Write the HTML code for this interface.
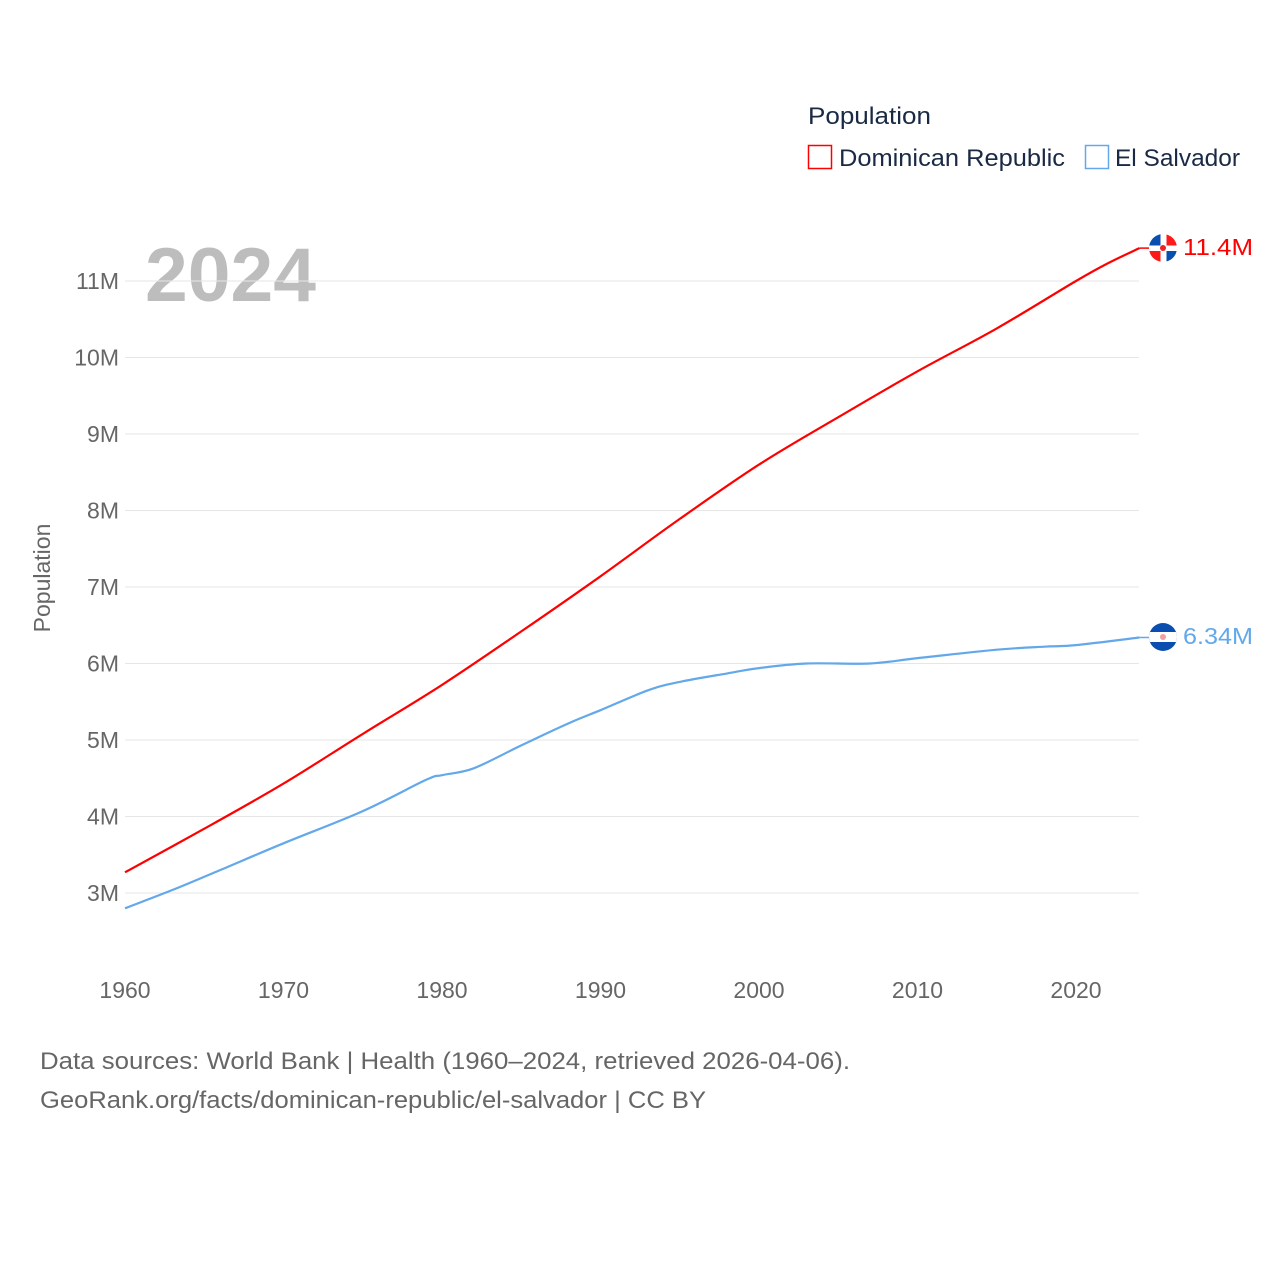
<!DOCTYPE html>
<html><head><meta charset="utf-8"><style>
html,body{margin:0;padding:0;background:#fff;}
svg{display:block;font-family:"Liberation Sans",sans-serif;}
</style></head><body>
<svg id="chart" width="1280" height="1280" viewBox="0 0 1280 1280" xmlns="http://www.w3.org/2000/svg">
<text x="808" y="124" font-size="24" fill="#1a2a44" textLength="123" lengthAdjust="spacingAndGlyphs">Population</text>
<rect x="808.5" y="145.5" width="23" height="23" fill="#fff" stroke="#ff0000" stroke-width="1.5"/>
<text x="839" y="166" font-size="24" fill="#1a2a44" textLength="226" lengthAdjust="spacingAndGlyphs">Dominican Republic</text>
<rect x="1085.5" y="145.5" width="23" height="23" fill="#fff" stroke="#63a8ea" stroke-width="1.5"/>
<text x="1115" y="166" font-size="24" fill="#1a2a44" textLength="125" lengthAdjust="spacingAndGlyphs">El Salvador</text>
<text x="145" y="301" font-size="76" font-weight="bold" fill="#bdbdbd" textLength="171" lengthAdjust="spacingAndGlyphs">2024</text>
<text transform="translate(50,578) rotate(-90)" text-anchor="middle" font-size="23" fill="#666">Population</text>
<g id="grid"></g><g id="yticks"></g><g id="xticks"></g><g id="lines"></g>
<g>
<clipPath id="c1"><circle cx="1163" cy="248" r="14"/></clipPath>
<g clip-path="url(#c1)"><rect x="1149" y="234" width="28" height="28" fill="#fff"/>
<rect x="1149" y="234" width="11.5" height="11.5" fill="#0a4fb0"/><rect x="1166.5" y="234" width="11.5" height="11.5" fill="#ff1a1a"/>
<rect x="1149" y="251" width="11.5" height="11.5" fill="#ff1a1a"/><rect x="1166.5" y="251" width="11.5" height="11.5" fill="#0a4fb0"/>
<circle cx="1163" cy="248" r="3" fill="#e22"/></g></g>
<text x="1183" y="255" font-size="23" fill="#ff0000" textLength="70" lengthAdjust="spacingAndGlyphs">11.4M</text>
<g>
<clipPath id="c2"><circle cx="1163" cy="637" r="14"/></clipPath>
<g clip-path="url(#c2)"><rect x="1149" y="623" width="28" height="28" fill="#0a4fb0"/><rect x="1149" y="632" width="28" height="10" fill="#fff"/>
<circle cx="1163" cy="637" r="3" fill="#f0a0a0"/></g></g>
<text x="1183" y="644" font-size="23" fill="#63a8ea" textLength="70" lengthAdjust="spacingAndGlyphs">6.34M</text>
<text x="40" y="1069" font-size="24" fill="#666" textLength="810" lengthAdjust="spacingAndGlyphs">Data sources: World Bank | Health (1960–2024, retrieved 2026-04-06).</text>
<text x="40" y="1108" font-size="24" fill="#666" textLength="666" lengthAdjust="spacingAndGlyphs">GeoRank.org/facts/dominican-republic/el-salvador | CC BY</text>
</svg>
<script>
const yTickValues = [3,4,5,6,7,8,9,10,11];
const yTickLabels = ["3M","4M","5M","6M","7M","8M","9M","10M","11M"];
const xTickValues = [1960,1970,1980,1990,2000,2010,2020];
const drYears = [1960,1965,1970,1975,1980,1985,1990,1995,2000,2005,2010,2015,2020,2022,2024];
const drValues = [3.27,3.84,4.43,5.08,5.72,6.42,7.14,7.89,8.6,9.22,9.82,10.38,11.0,11.23,11.43];
const esYears = [1960,1963,1966,1970,1975,1979,1980,1982,1985,1988,1990,1993,1995,1998,2000,2003,2007,2010,2015,2018,2020,2024];
const esValues = [2.8,3.04,3.3,3.65,4.07,4.48,4.54,4.63,4.93,5.22,5.39,5.65,5.76,5.87,5.94,6.0,6.0,6.07,6.18,6.22,6.24,6.34];
const NS="http://www.w3.org/2000/svg";
const xs = y => 125 + (y-1960)*(1076-125)/60;
const ys = v => 893 - (v-3)*76.5;
function mk(t,p,a){const e=document.createElementNS(NS,t);for(const k in a)e.setAttribute(k,a[k]);p.appendChild(e);return e;}
const grid=document.getElementById('grid'),yt=document.getElementById('yticks'),xt=document.getElementById('xticks'),lines=document.getElementById('lines');
yTickValues.forEach((v,i)=>{
 const l=mk('line',grid,{x1:125,x2:1139,y1:ys(v),y2:ys(v),stroke:'#e6e6e6','stroke-width':1});
 
 
 const t=mk('text',yt,{x:119,y:ys(v)+8,'text-anchor':'end','font-size':23,fill:'#666'});
 t.textContent=yTickLabels[i];
 
 
});
xTickValues.forEach(v=>{
 const t=mk('text',xt,{x:xs(v),y:998,'text-anchor':'middle','font-size':23,fill:'#666'});
 t.textContent=v;
 
 
});
function line(yrs,vals,color,name){
 const P=yrs.map((y,i)=>[xs(y),ys(vals[i])]);
 let d='M'+P[0][0].toFixed(1)+' '+P[0][1].toFixed(1);
 for(let i=0;i<P.length-1;i++){
  const p0=P[Math.max(0,i-1)],p1=P[i],p2=P[i+1],p3=P[Math.min(P.length-1,i+2)];
  const c1=[p1[0]+(p2[0]-p0[0])/6,p1[1]+(p2[1]-p0[1])/6];
  const c2=[p2[0]-(p3[0]-p1[0])/6,p2[1]-(p3[1]-p1[1])/6];
  d+=' C'+c1[0].toFixed(1)+' '+c1[1].toFixed(1)+' '+c2[0].toFixed(1)+' '+c2[1].toFixed(1)+' '+p2[0].toFixed(1)+' '+p2[1].toFixed(1);
 }
 const p=mk('path',lines,{d:d,fill:'none',stroke:color,'stroke-width':2.2,'stroke-linejoin':'round'});
 
 
 const x2=P[P.length-1][0],y2=P[P.length-1][1];
 const c=mk('line',lines,{x1:x2,y1:y2,x2:1149,y2:y2,stroke:color,'stroke-width':1.5});
 
 
}
line(drYears,drValues,'#ff0000','line-dominican-republic');
line(esYears,esValues,'#63a8ea','line-el-salvador');
</script>
</body></html>
